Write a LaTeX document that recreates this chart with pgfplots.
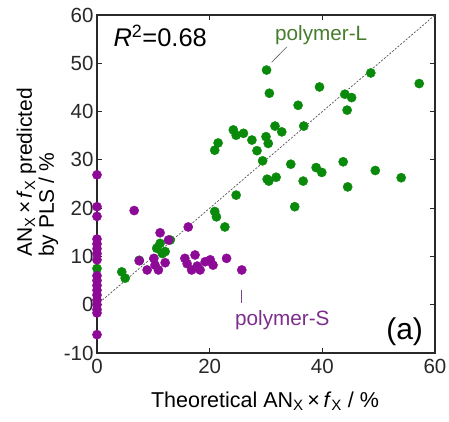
\documentclass[border=0pt]{standalone}
\usepackage{pgfplots}
\pgfplotsset{compat=1.18}
\usepackage{fontspec}
\setmainfont{Liberation Sans}
\definecolor{mgreen}{RGB}{10,138,10}
\definecolor{mpurple}{RGB}{140,10,150}
\definecolor{tgreen}{RGB}{70,125,45}
\definecolor{tpurple}{RGB}{125,45,140}
\definecolor{axgray}{RGB}{40,40,40}
\begin{document}
\begin{tikzpicture}
\useasboundingbox (-97pt,-68pt) rectangle (352pt,353pt);
\begin{axis}[
  at={(0pt,0pt)}, anchor=south west,
  scale only axis, width=338pt, height=338pt,
  xmin=0, xmax=60, ymin=-10, ymax=60,
  xtick={0,20,40,60}, ytick={-10,0,...,60},
  tick align=inside, major tick length=5pt,
  axis line style={axgray, line width=1.2pt},
  every tick/.style={axgray, line width=1.2pt},
  tick label style={font=\fontsize{20.5}{24}\selectfont, text=axgray},
  xticklabel style={yshift=-3pt},
  /pgf/number format/assume math mode=true,
  xlabel={Theoretical AN\textsubscript{X}\,×\,\textit{f}\textsubscript{X} / \%},
  xlabel style={font=\fontsize{21.5}{24}\selectfont, at={(axis description cs:0.497,-0.160)}, anchor=base},
  ylabel={AN\textsubscript{X}\,×\,\textit{f}\textsubscript{X} predicted\\by PLS / \%},
  ylabel style={font=\fontsize{21}{22}\selectfont, align=left, at={(axis description cs:-0.176,0.534)}, anchor=center},
  clip=false,
]
\addplot[gray!65!black, dash pattern=on 2pt off 1.6pt, line width=0.7pt, forget plot] coordinates {(0,0) (60,60)};
\addplot[only marks, mark=*, mark size=4.6pt, color=mgreen, mark options={fill=mgreen, draw=mgreen}] coordinates {
(0,7.5) (4.4,6.8) (5.0,5.5) (7.5,9.2) (10.6,11.7) (11.2,12.7) (12.1,11.0) (13.0,13.4) (11.6,10.6)
(20.9,19.3) (21.2,18.2) (22.7,16.1) (24.7,22.7)
(20.9,32.0) (21.5,33.5) (24.2,36.2) (24.7,35.1) (26.0,35.5) (27.5,34.1) (28.4,31.9) (29.4,29.8)
(30.0,34.8) (30.4,33.4) (31.6,37.0) (32.8,35.8) (34.4,29.1) (30.2,26.0) (31.8,26.4) (30.5,25.6)
(36.6,25.6) (35.1,20.3) (35.7,41.3) (36.7,37.0) (30.1,48.6) (30.6,43.8) (39.5,45.1) (44.0,43.6)
(45.2,42.9) (44.4,40.3) (48.6,48.0) (57.2,45.8) (38.9,28.4) (39.9,27.4) (43.7,29.6) (44.5,24.4)
(49.4,27.8) (54.0,26.3)
};
\addplot[only marks, mark=*, mark size=4.6pt, color=mpurple, mark options={fill=mpurple, draw=mpurple}] coordinates {
(0,26.9) (0,20.3) (0,18.3) (0,13.6) (0,12.6) (0,11.6) (0,10.6) (0,9.3) (0,6.0) (0,5.0) (0,4.0)
(0,3.0) (0,2.0) (0,1.0) (0,0) (0,-1.0) (0,-1.7) (0,-6.2)
(6.6,19.5) (11.2,14.9) (16.2,16.1) (12.7,13.4) (7.5,9.1) (8.9,7.2) (10.1,9.6) (10.3,8.2) (10.9,7.2)
(12.1,8.7) (15.6,9.6) (17.4,10.3) (16.8,7.2) (18.3,7.2) (19.2,8.9) (20.1,9.3) (20.6,8.2) (23.0,9.6)
(25.7,7.2) (16.0,8.5) (17.8,8.0)
};
\node[anchor=base west, font=\fontsize{25.5}{30}\selectfont, inner sep=0pt] at (axis cs:2.9,53.4) {\textit{R}\textsuperscript{2}=0.68};
\node[anchor=base west, font=\fontsize{20.7}{24}\selectfont, text=tgreen, inner sep=0pt] at (axis cs:31.6,54.8) {polymer-L};
\draw[gray!70!black, line width=0.6pt] (axis cs:31.0,50.2) -- (axis cs:33.7,53.4);
\node[anchor=base west, font=\fontsize{20.7}{24}\selectfont, text=tpurple, inner sep=0pt] at (axis cs:24.5,-4.2) {polymer-S};
\draw[tpurple!70!gray, line width=0.6pt] (axis cs:25.6,0.4) -- (axis cs:25.6,3.0);
\node[anchor=base east, font=\fontsize{30}{34}\selectfont, inner sep=0pt] at (axis cs:57.9,-7.3) {(a)};
\end{axis}
\end{tikzpicture}
\end{document}
